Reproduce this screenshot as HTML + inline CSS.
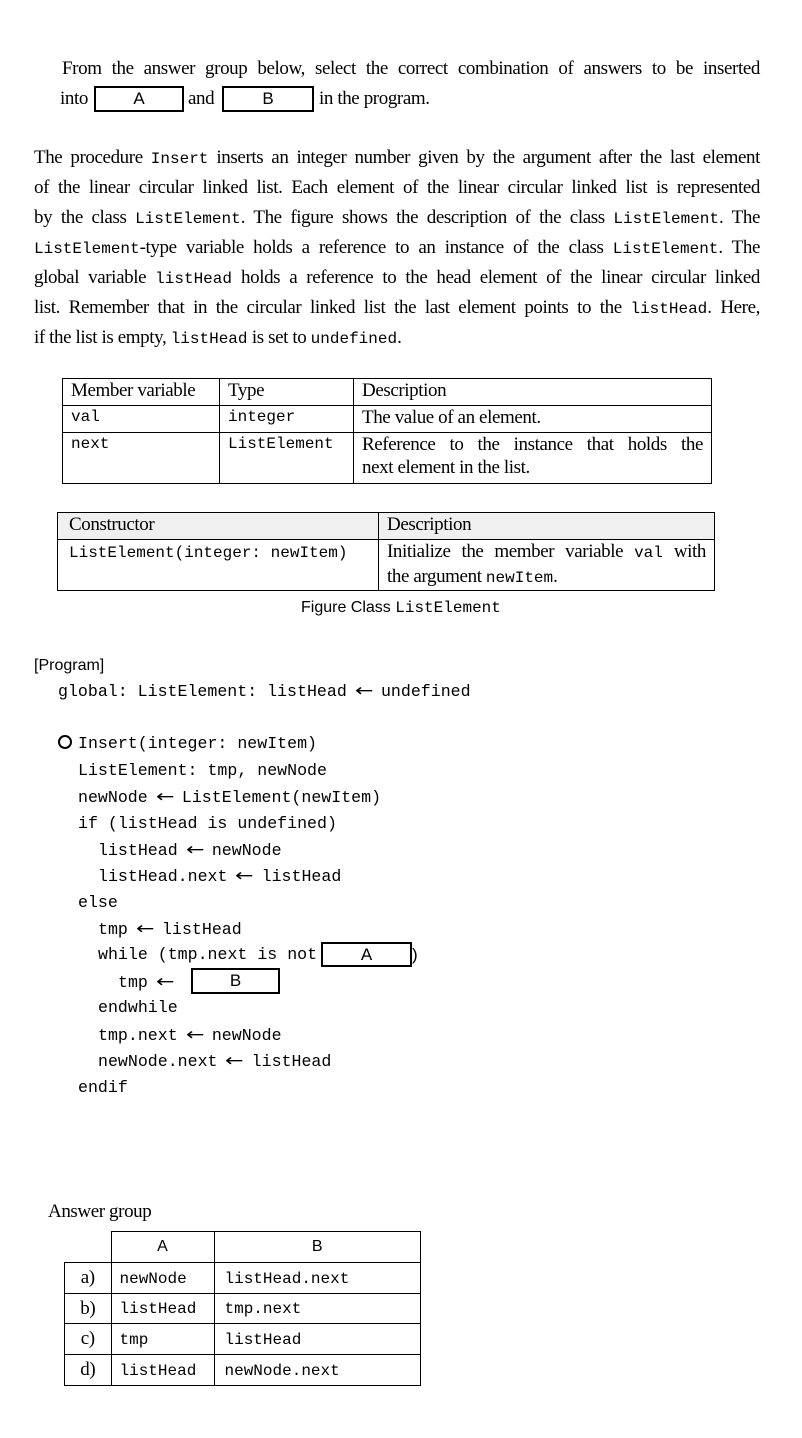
<!DOCTYPE html>
<html><head><meta charset="utf-8"><style>
body{margin:0;background:#fff;width:802px;height:1438px;position:relative;overflow:hidden;color:#000}
.s{font-family:"Liberation Serif",serif;font-size:19px;letter-spacing:-0.4px}
.m{font-family:"Liberation Mono",monospace;font-size:16px;letter-spacing:0}
.a{font-family:"Liberation Sans",sans-serif}
.l{position:absolute;line-height:22px;white-space:nowrap}
.j{position:absolute;left:34px;width:726px;line-height:22px;text-align:justify;text-align-last:justify;white-space:nowrap}
.jj{text-align:justify;text-align-last:justify}
.box{position:absolute;border:2px solid #000;box-sizing:border-box;font-family:"Liberation Sans",sans-serif;font-size:17px;text-align:center;line-height:22px}
.c{position:absolute;font-family:"Liberation Mono",monospace;font-size:16.6px;line-height:20px;white-space:nowrap}
.ar{font-family:"DejaVu Sans",sans-serif;font-size:17px;display:inline-block;transform:scaleX(1.3)}
.circ{display:inline-block;width:10px;height:10px;border:2px solid #000;border-radius:50%;vertical-align:-1px;margin-right:6px}
table{position:absolute;border-collapse:collapse}
td{border:1px solid #000;padding:0 8px;vertical-align:top}
</style></head><body>

<div class="l s" style="left:62px;top:58px;width:698px;text-align:justify;text-align-last:justify">From the answer group below, select the correct combination of answers to be inserted</div>
<div class="l s" style="left:60px;top:88px">into</div>
<div class="box" style="left:94px;top:86px;width:90px;height:26px">A</div>
<div class="l s" style="left:188px;top:88px">and</div>
<div class="box" style="left:222px;top:86px;width:92px;height:26px">B</div>
<div class="l s" style="left:319px;top:88px">in the program.</div>

<div class="j s" style="top:147px">The procedure <span class="m">Insert</span> inserts an integer number given by the argument after the last element</div>
<div class="j s" style="top:177px">of the linear circular linked list. Each element of the linear circular linked list is represented</div>
<div class="j s" style="top:207px">by the class <span class="m">ListElement</span>. The figure shows the description of the class <span class="m">ListElement</span>. The</div>
<div class="j s" style="top:237px"><span class="m">ListElement</span>-type variable holds a reference to an instance of the class <span class="m">ListElement</span>. The</div>
<div class="j s" style="top:267px">global variable <span class="m">listHead</span> holds a reference to the head element of the linear circular linked</div>
<div class="j s" style="top:297px">list. Remember that in the circular linked list the last element points to the <span class="m">listHead</span>. Here,</div>
<div class="l s" style="left:34px;top:327px">if the list is empty, <span class="m">listHead</span> is set to <span class="m">undefined</span>.</div>

<table class="s" style="left:62px;top:378px;width:650px;line-height:23px">
<tr style="height:27px"><td style="width:140px">Member variable</td><td style="width:117px">Type</td><td>Description</td></tr>
<tr style="height:27px"><td class="m">val</td><td class="m">integer</td><td>The value of an element.</td></tr>
<tr style="height:51px"><td class="m">next</td><td class="m">ListElement</td><td><div class="jj">Reference to the instance that holds the</div><div>next element in the list.</div></td></tr>
</table>

<table class="s" style="left:57px;top:512px;width:658px;line-height:23px">
<tr style="height:27px;background:#f0f0f0"><td style="width:301px;padding-left:11px">Constructor</td><td>Description</td></tr>
<tr style="height:51px"><td class="m" style="padding-left:11px;padding-top:2px">ListElement(integer: newItem)</td><td><div class="jj">Initialize the member variable <span class="m">val</span> with</div><div>the argument <span class="m">newItem</span>.</div></td></tr>
</table>
<div class="l a" style="left:301px;top:597px;font-size:16px">Figure Class <span class="m">ListElement</span></div>

<div class="l a" style="left:34px;top:655px;font-size:16px">[Program]</div>
<div class="c" style="left:58px;top:681px">global: ListElement: listHead <span class="ar">←</span> undefined</div>
<div class="c" style="left:58px;top:734px"><span class="circ"></span>Insert(integer: newItem)</div>
<div class="c" style="left:78px;top:761px">ListElement: tmp, newNode</div>
<div class="c" style="left:78px;top:787px">newNode <span class="ar">←</span> ListElement(newItem)</div>
<div class="c" style="left:78px;top:814px">if (listHead is undefined)</div>
<div class="c" style="left:98px;top:840px">listHead <span class="ar">←</span> newNode</div>
<div class="c" style="left:98px;top:866px">listHead.next <span class="ar">←</span> listHead</div>
<div class="c" style="left:78px;top:893px">else</div>
<div class="c" style="left:98px;top:919px">tmp <span class="ar">←</span> listHead</div>
<div class="c" style="left:98px;top:945px">while (tmp.next is not</div>
<div class="box" style="left:321px;top:942px;width:91px;height:25px">A</div>
<div class="l a" style="left:412px;top:944px;font-size:17px">)</div>
<div class="c" style="left:118px;top:972px">tmp <span class="ar">←</span></div>
<div class="box" style="left:191px;top:968px;width:89px;height:26px">B</div>
<div class="c" style="left:98px;top:998px">endwhile</div>
<div class="c" style="left:98px;top:1025px">tmp.next <span class="ar">←</span> newNode</div>
<div class="c" style="left:98px;top:1051px">newNode.next <span class="ar">←</span> listHead</div>
<div class="c" style="left:78px;top:1078px">endif</div>

<div class="l s" style="left:48px;top:1201px">Answer group</div>
<table style="left:64px;top:1231px;width:357px;line-height:24px">
<tr style="height:31px"><td style="border:none;border-bottom:1px solid #000;width:30px"></td><td class="a" style="text-align:center;font-size:16px;width:86px;padding-top:3px">A</td><td class="a" style="text-align:center;font-size:16px;padding-top:3px">B</td></tr>
<tr style="height:31px"><td class="s" style="text-align:center;padding-top:3px">a)</td><td class="m" style="padding-top:4px">newNode</td><td class="m" style="padding-left:10px;padding-top:4px">listHead.next</td></tr>
<tr style="height:30px"><td class="s" style="text-align:center;padding-top:3px">b)</td><td class="m" style="padding-top:3px">listHead</td><td class="m" style="padding-left:10px;padding-top:3px">tmp.next</td></tr>
<tr style="height:31px"><td class="s" style="text-align:center;padding-top:3px">c)</td><td class="m" style="padding-top:4px">tmp</td><td class="m" style="padding-left:10px;padding-top:4px">listHead</td></tr>
<tr style="height:31px"><td class="s" style="text-align:center;padding-top:3px">d)</td><td class="m" style="padding-top:4px">listHead</td><td class="m" style="padding-left:10px;padding-top:4px">newNode.next</td></tr>
</table>
</body></html>
